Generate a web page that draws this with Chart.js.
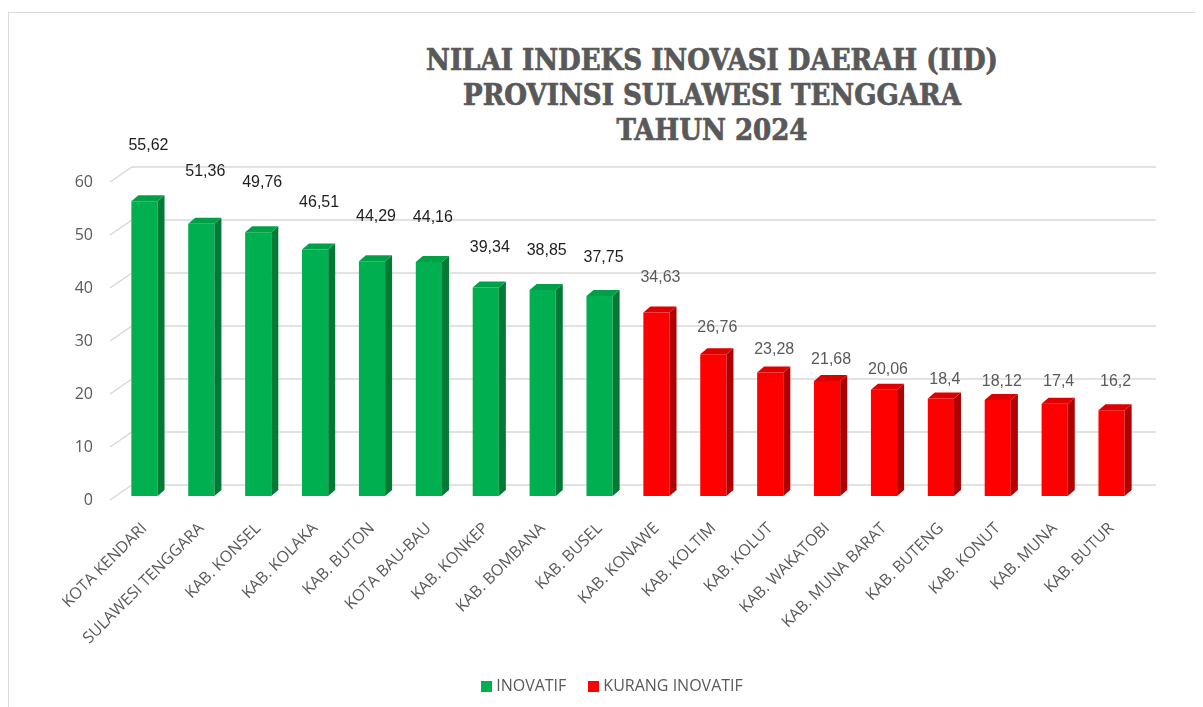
<!DOCTYPE html>
<html>
<head>
<meta charset="utf-8">
<title>Nilai Indeks Inovasi Daerah (IID) Sulawesi Tenggara 2024</title>
<script src="https://cdn.jsdelivr.net/npm/chart.js@4.4.1/dist/chart.umd.min.js"></script>
<style>
  html, body { margin: 0; padding: 0; background: #fff; }
  .wrap { position: relative; width: 1203px; height: 707px; overflow: hidden; }
  .frame {
    position: absolute; left: 8px; top: 12px; right: 8px; bottom: -2px;
    border-top: 1px solid #dadada; border-left: 1px solid #dadada;
  }
  .title {
    position: absolute; left: 362px; width: 700px; top: 43px;
    text-align: center; color: #595959;
    font: bold 29px/35px "DejaVu Serif", serif;
    font-stretch: condensed;
    -webkit-text-stroke: 0.7px #595959;
  }
  .legend {
    position: absolute; left: 0; width: 1224px; top: 674px;
    text-align: center; color: #595959;
    font: 16px/22px "Open Sans", sans-serif;
  }
  .legend span { display: inline-block; margin: 0 11px; }
  .legend i {
    display: inline-block; width: 11px; height: 11px;
    margin-right: 4px; vertical-align: -1px;
  }
  canvas { position: absolute; left: 0; top: 0; }
</style>
</head>
<body>
<div class="wrap">
  <div class="frame"></div>
  <div class="title" id="chart-title"></div>
  <canvas id="iid-chart" width="1203" height="707"></canvas>
  <div class="legend" id="chart-legend"></div>
</div>
<script>
// === Data ===
const titleLines = [
  "NILAI INDEKS INOVASI DAERAH (IID)",
  "PROVINSI SULAWESI TENGGARA",
  "TAHUN 2024",
];

const regions = [
  "KOTA KENDARI", "SULAWESI TENGGARA", "KAB. KONSEL", "KAB. KOLAKA",
  "KAB. BUTON", "KOTA BAU-BAU", "KAB. KONKEP", "KAB. BOMBANA", "KAB. BUSEL",
  "KAB. KONAWE", "KAB. KOLTIM", "KAB. KOLUT", "KAB. WAKATOBI",
  "KAB. MUNA BARAT", "KAB. BUTENG", "KAB. KONUT", "KAB. MUNA", "KAB. BUTUR",
];

const scores = [
  55.62, 51.36, 49.76, 46.51, 44.29, 44.16, 39.34, 38.85, 37.75,
  34.63, 26.76, 23.28, 21.68, 20.06, 18.4, 18.12, 17.4, 16.2,
];

const categories = [
  "INOVATIF", "INOVATIF", "INOVATIF", "INOVATIF", "INOVATIF",
  "INOVATIF", "INOVATIF", "INOVATIF", "INOVATIF",
  "KURANG INOVATIF", "KURANG INOVATIF", "KURANG INOVATIF",
  "KURANG INOVATIF", "KURANG INOVATIF", "KURANG INOVATIF",
  "KURANG INOVATIF", "KURANG INOVATIF", "KURANG INOVATIF",
];

const legendNames = ["INOVATIF", "KURANG INOVATIF"];
const yTicks = [0, 10, 20, 30, 40, 50, 60];

// === Styling ===
const GREY = "#595959";
const GRID = "#d9d9d9";
const PALETTE = {
  "INOVATIF":        { front: "#00b050", side: "#007a35", top: "#00a048", label: "#1e1e1e" },
  "KURANG INOVATIF": { front: "#ff0000", side: "#b00000", top: "#dd0000", label: GREY },
};
const DEPTH_X = 7;   // extrusion of the bars
const DEPTH_Y = 6;
const WALL_X = 16;   // back wall offset for the grid
const WALL_Y = 11;

const fmt = (n) => String(n).replace(".", ",");

document.getElementById("chart-title").innerHTML = titleLines.join("<br>");
document.getElementById("chart-legend").innerHTML = legendNames
  .map(name => `<span><i style="background:${PALETTE[name].front}"></i>${name}</span>`)
  .join("");

// === Plugins ===
// grid lines sit on a back wall, with a short diagonal on the left side
const backWall = {
  id: "backWall",
  beforeDatasetsDraw(chart) {
    const { ctx, chartArea, scales: { y } } = chart;
    ctx.save();
    ctx.strokeStyle = GRID;
    ctx.lineWidth = 1.5;
    yTicks.forEach(v => {
      const py = y.getPixelForValue(v);
      ctx.beginPath();
      ctx.moveTo(chartArea.left - 6, py + 4);
      ctx.lineTo(chartArea.left + WALL_X, py - WALL_Y);
      ctx.lineTo(chartArea.right + WALL_X, py - WALL_Y);
      ctx.stroke();
    });
    ctx.restore();
  },
};

// side and top faces so the columns look like boxes
const boxFaces = {
  id: "boxFaces",
  afterDatasetsDraw(chart) {
    const { ctx } = chart;
    const bars = chart.getDatasetMeta(0).data;
    ctx.save();
    bars.forEach((bar, i) => {
      const c = PALETTE[categories[i]];
      const { x, y, base, width } = bar.getProps(["x", "y", "base", "width"], true);
      const l = x - width / 2, r = x + width / 2;

      ctx.fillStyle = c.side;
      ctx.beginPath();
      ctx.moveTo(r, y);
      ctx.lineTo(r + DEPTH_X, y - DEPTH_Y);
      ctx.lineTo(r + DEPTH_X, base - DEPTH_Y);
      ctx.lineTo(r, base);
      ctx.closePath();
      ctx.fill();

      ctx.fillStyle = c.top;
      ctx.beginPath();
      ctx.moveTo(l, y);
      ctx.lineTo(l + DEPTH_X, y - DEPTH_Y);
      ctx.lineTo(r + DEPTH_X, y - DEPTH_Y);
      ctx.lineTo(r, y);
      ctx.closePath();
      ctx.fill();
    });
    ctx.restore();
  },
};

// value labels float above the columns, never lower than the 20 band
const valueLabels = {
  id: "valueLabels",
  afterDatasetsDraw(chart) {
    const { ctx, scales: { y } } = chart;
    const bars = chart.getDatasetMeta(0).data;
    const floor = y.getPixelForValue(21.6);
    ctx.save();
    ctx.font = '16px "Liberation Sans", Arial, sans-serif';
    ctx.textAlign = "center";
    ctx.textBaseline = "middle";
    bars.forEach((bar, i) => {
      const py = Math.min(y.getPixelForValue(scores[i] * 1.19), floor);
      ctx.fillStyle = PALETTE[categories[i]].label;
      ctx.fillText(fmt(scores[i]), bar.x + 4, py);
    });
    ctx.restore();
  },
};

// === Chart ===
const ctx = document.getElementById("iid-chart").getContext("2d");
new Chart(ctx, {
  type: "bar",
  data: {
    labels: regions,
    datasets: [{
      label: "IID",
      data: scores,
      backgroundColor: categories.map(c => PALETTE[c].front),
      borderWidth: 0,
      barPercentage: 0.46,
      categoryPercentage: 1,
    }],
  },
  options: {
    responsive: false,
    animation: false,
    layout: { padding: { top: 178, left: 16, right: 63, bottom: 0 } },
    plugins: {
      title: { display: false },
      tooltip: { enabled: false },
      legend: { display: false },
    },
    scales: {
      x: {
        grid: { display: false },
        border: { display: false },
        ticks: {
          color: GREY,
          font: { family: '"Open Sans", sans-serif', size: 16 },
          minRotation: 45,
          maxRotation: 45,
          padding: 15,
          autoSkip: false,
        },
        afterFit: (s) => { s.height = 211; },
      },
      y: {
        min: 0,
        max: 60,
        grid: { display: false, drawTicks: false },
        border: { display: false },
        ticks: {
          stepSize: 10,
          color: GREY,
          padding: 23,
          labelOffset: 4,
          font: { family: '"Open Sans", sans-serif', size: 16 },
        },
        afterFit: (s) => { s.width = 100; },
      },
    },
  },
  plugins: [backWall, boxFaces, valueLabels],
});
</script>
</body>
</html>
